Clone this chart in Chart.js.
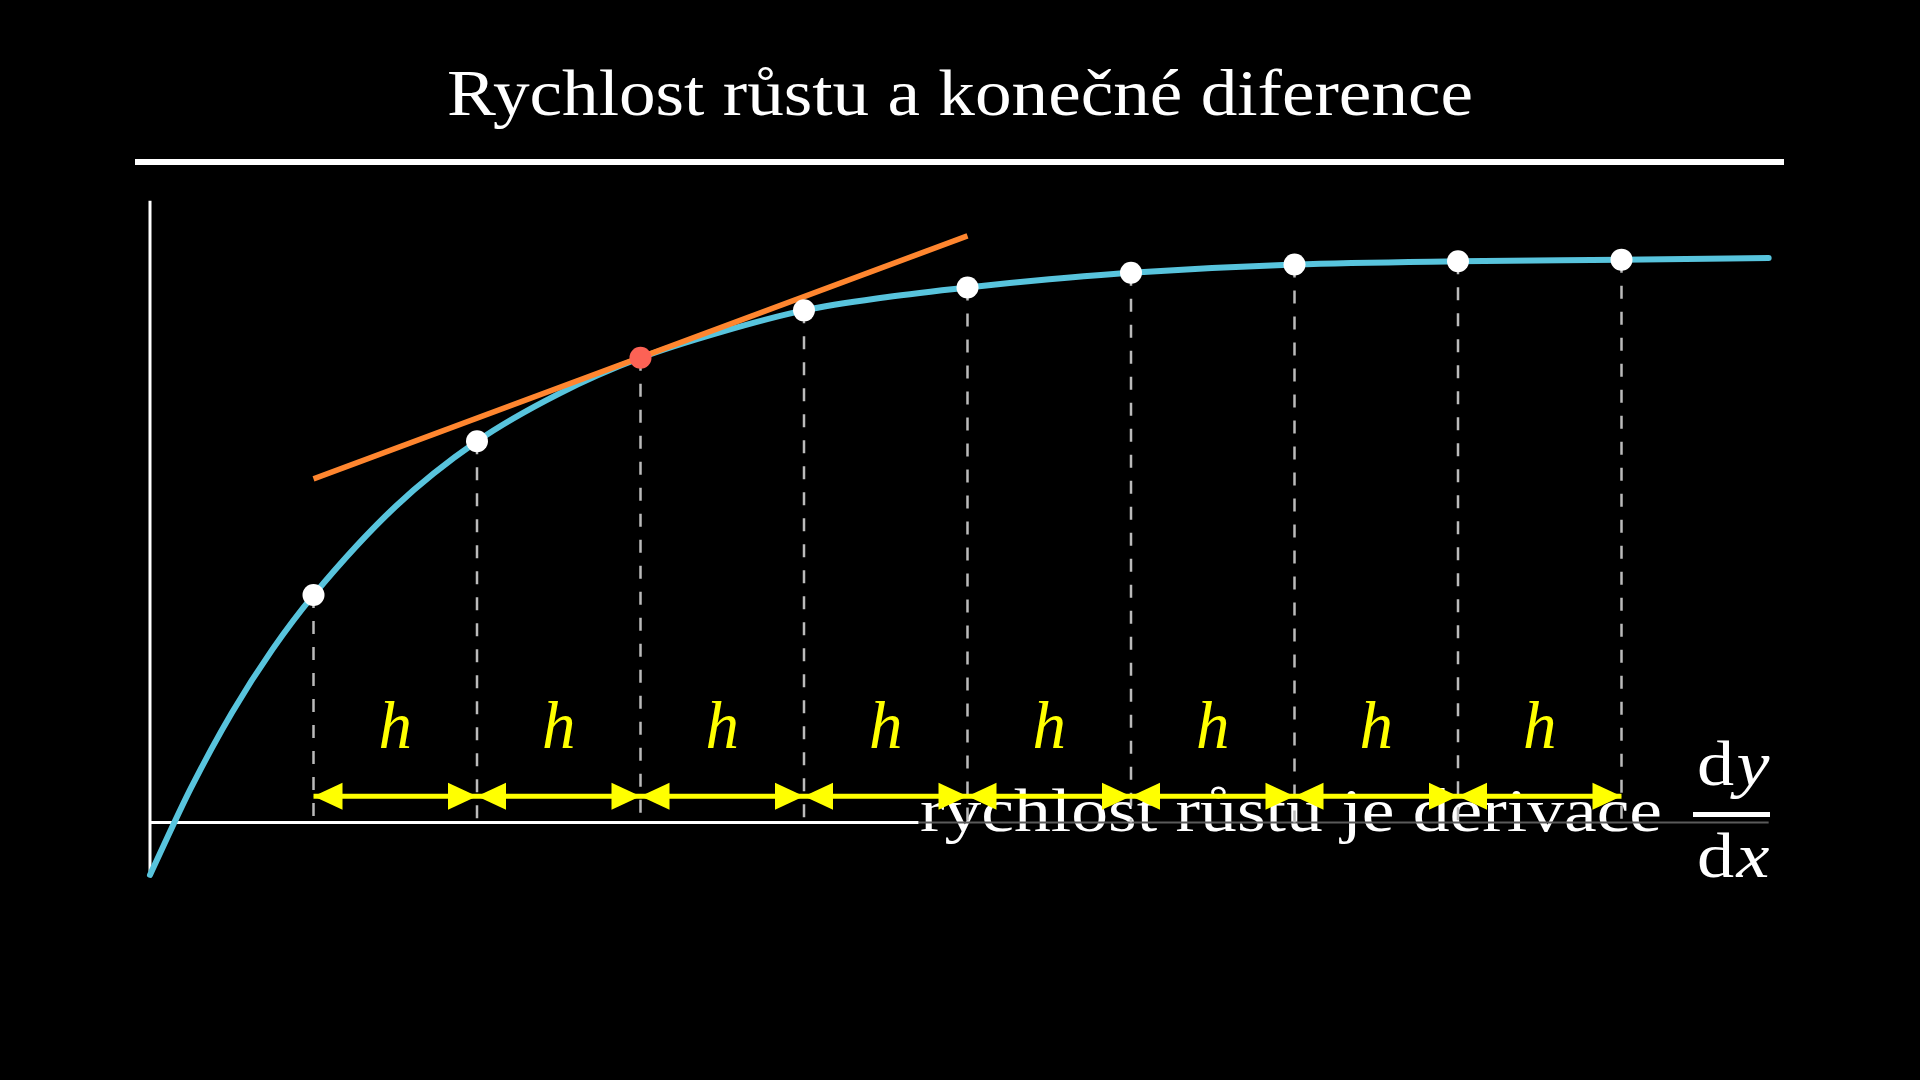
<!DOCTYPE html>
<html>
<head>
<meta charset="utf-8">
<script src="https://cdn.jsdelivr.net/npm/chart.js@4.4.1/dist/chart.umd.min.js"></script>
<style>
  html, body { margin: 0; padding: 0; background: #000; }
  #wrap { width: 1920px; height: 1080px; }
</style>
</head>
<body>
<div id="wrap"><canvas id="chart" width="1920" height="1080"></canvas></div>
<script>
// curve (x in steps of h, y in the same units)
const curveX = [0, 0.25, 0.5, 0.75, 1, 1.5, 2, 2.5, 3, 3.5, 4, 4.5, 5, 5.5, 6, 7, 8, 9, 9.9];
const curveY = [-0.32, 0.21, 0.67, 1.06, 1.39, 1.93, 2.33, 2.62, 2.84, 3.00, 3.13, 3.21, 3.27, 3.32, 3.36, 3.41, 3.43, 3.44, 3.45];

// sampled points every h
const sampleX = [1, 2, 3, 4, 5, 6, 7, 8, 9];
const sampleY = [1.39, 2.33, 2.84, 3.13, 3.27, 3.36, 3.41, 3.43, 3.44];
const tangentIndex = 2;

// tangent line at the red point
const tangentX = [1, 5];
const tangentY = [2.10, 3.585];

// axes
const xAxisBright = [0, 4.7];
const xAxisFaded = [4.7, 9.9];
const yAxisRange = [-0.3, 3.8];

// h arrows
const arrowLevel = 0.16;
const labelLevel = 0.455;
const stepLabel = 'h';

const titleText = 'Rychlost růstu a konečné diference';
const captionText = 'rychlost růstu je derivace';

const BLUE = '#58C4DD';
const ORANGE = '#FF862F';
const RED = '#FC6255';
const YELLOW = '#FFFF00';
const DASH_GREY = '#BBBBBB';

// build point lists
const curveData = curveX.map((x, i) => ({ x: x, y: curveY[i] }));
const dotData = sampleX.map((x, i) => ({ x: x, y: sampleY[i] }));
const tangentData = tangentX.map((x, i) => ({ x: x, y: tangentY[i] }));

const dashData = [];
sampleX.forEach((x, i) => {
  dashData.push({ x: x, y: sampleY[i] });
  dashData.push({ x: x, y: 0 });
  dashData.push({ x: x, y: null });
});

const shaftData = [];
for (let i = 0; i < sampleX.length - 1; i++) {
  shaftData.push({ x: sampleX[i], y: arrowLevel });
  shaftData.push({ x: sampleX[i + 1], y: arrowLevel });
  shaftData.push({ x: sampleX[i + 1], y: null });
}

function stretchedText(ctx, text, x, y, font, width, align) {
  ctx.save();
  ctx.font = font;
  const w = ctx.measureText(text).width;
  const sx = width / w;
  ctx.translate(x, y);
  ctx.scale(sx, 1);
  ctx.textBaseline = 'alphabetic';
  ctx.textAlign = 'left';
  const start = align === 'center' ? -w / 2 : 0;
  ctx.fillText(text, start, 0);
  ctx.restore();
}

function fracPart(ctx, up, it, cx, baseline, size, width) {
  ctx.save();
  const fUp = size + 'px "Liberation Serif"';
  const fIt = 'italic ' + size + 'px "Liberation Serif"';
  ctx.font = fUp;
  const w1 = ctx.measureText(up).width;
  ctx.font = fIt;
  const w2 = ctx.measureText(it).width;
  const sx = width / (w1 + w2);
  ctx.translate(cx, baseline);
  ctx.scale(sx, 1);
  ctx.fillStyle = '#fff';
  ctx.textAlign = 'left';
  ctx.font = fUp;
  ctx.fillText(up, -(w1 + w2) / 2, 0);
  ctx.font = fIt;
  ctx.fillText(it, -(w1 + w2) / 2 + w1 + 2, 0);
  ctx.restore();
}

const decorPlugin = {
  id: 'decor',
  beforeDatasetsDraw(chart) {
    const ctx = chart.ctx;
    ctx.save();
    ctx.fillStyle = '#fff';
    // title + rule
    stretchedText(ctx, titleText, 960, 115, '66px "Liberation Serif"', 1026, 'center');
    ctx.fillRect(135, 159, 1649, 6);
    // caption
    stretchedText(ctx, captionText, 920, 831, '62px "Liberation Serif"', 742, 'left');
    // dy/dx
    fracPart(ctx, 'd', 'y', 1732, 785, 64, 70);
    fracPart(ctx, 'd', 'x', 1732, 877, 64, 70);
    ctx.fillRect(1693, 812, 77, 5);
    ctx.restore();
  },
  afterDatasetsDraw(chart) {
    const ctx = chart.ctx;
    const xs = chart.scales.x;
    const ys = chart.scales.y;
    ctx.save();
    const yA = ys.getPixelForValue(arrowLevel);
    const len = 29, half = 13.5;
    ctx.fillStyle = YELLOW;
    for (let i = 0; i < sampleX.length - 1; i++) {
      const x1 = xs.getPixelForValue(sampleX[i]);
      const x2 = xs.getPixelForValue(sampleX[i + 1]);
      ctx.beginPath();
      ctx.moveTo(x1, yA);
      ctx.lineTo(x1 + len, yA - half);
      ctx.lineTo(x1 + len, yA + half);
      ctx.closePath();
      ctx.fill();
      ctx.beginPath();
      ctx.moveTo(x2, yA);
      ctx.lineTo(x2 - len, yA - half);
      ctx.lineTo(x2 - len, yA + half);
      ctx.closePath();
      ctx.fill();
    }
    // h labels
    ctx.font = 'italic 67px "Liberation Serif"';
    ctx.textAlign = 'center';
    ctx.textBaseline = 'alphabetic';
    const yL = ys.getPixelForValue(labelLevel);
    for (let i = 0; i < sampleX.length - 1; i++) {
      const xm = xs.getPixelForValue((sampleX[i] + sampleX[i + 1]) / 2);
      ctx.fillText(stepLabel, xm, yL);
    }
    ctx.restore();
  }
};

const data = {
  datasets: [
    {
      label: 'body',
      data: dotData,
      showLine: false,
      pointRadius: 11,
      pointHoverRadius: 11,
      pointBorderWidth: 0,
      pointBackgroundColor: sampleX.map((x, i) => i === tangentIndex ? RED : '#FFFFFF'),
      order: 1
    },
    {
      label: 'tecna',
      data: tangentData,
      borderColor: ORANGE,
      borderWidth: 5.5,
      pointRadius: 0,
      borderCapStyle: 'butt',
      order: 2
    },
    {
      label: 'funkce',
      data: curveData,
      borderColor: BLUE,
      borderWidth: 6,
      pointRadius: 0,
      cubicInterpolationMode: 'monotone',
      borderCapStyle: 'round',
      order: 3
    },
    {
      label: 'sipky',
      data: shaftData,
      borderColor: YELLOW,
      borderWidth: 5,
      pointRadius: 0,
      spanGaps: false,
      order: 4
    },
    {
      label: 'carkovane',
      data: dashData,
      borderColor: DASH_GREY,
      borderWidth: 2.5,
      borderDash: [13, 13],
      pointRadius: 0,
      spanGaps: false,
      order: 5
    },
    {
      label: 'osa x',
      data: xAxisBright.map(x => ({ x: x, y: 0 })),
      borderColor: '#FFFFFF',
      borderWidth: 3,
      pointRadius: 0,
      order: 6
    },
    {
      label: 'osa x slaba',
      data: xAxisFaded.map(x => ({ x: x, y: 0 })),
      borderColor: '#5a5a5a',
      borderWidth: 2,
      pointRadius: 0,
      order: 6
    },
    {
      label: 'osa y',
      data: yAxisRange.map(y => ({ x: 0, y: y })),
      borderColor: '#FFFFFF',
      borderWidth: 3,
      pointRadius: 0,
      order: 6
    }
  ]
};

const options = {
  responsive: false,
  animation: false,
  events: [],
  clip: false,
  layout: {
    padding: { left: 150, right: 135, top: 168, bottom: 192 }
  },
  plugins: {
    legend: { display: false },
    title: { display: false },
    tooltip: { enabled: false }
  },
  scales: {
    x: { type: 'linear', display: false, min: 0, max: 10 },
    y: { type: 'linear', display: false, min: -0.4, max: 4 }
  }
};

new Chart(document.getElementById('chart'), {
  type: 'line',
  data: data,
  options: options,
  plugins: [decorPlugin]
});
</script>
</body>
</html>
